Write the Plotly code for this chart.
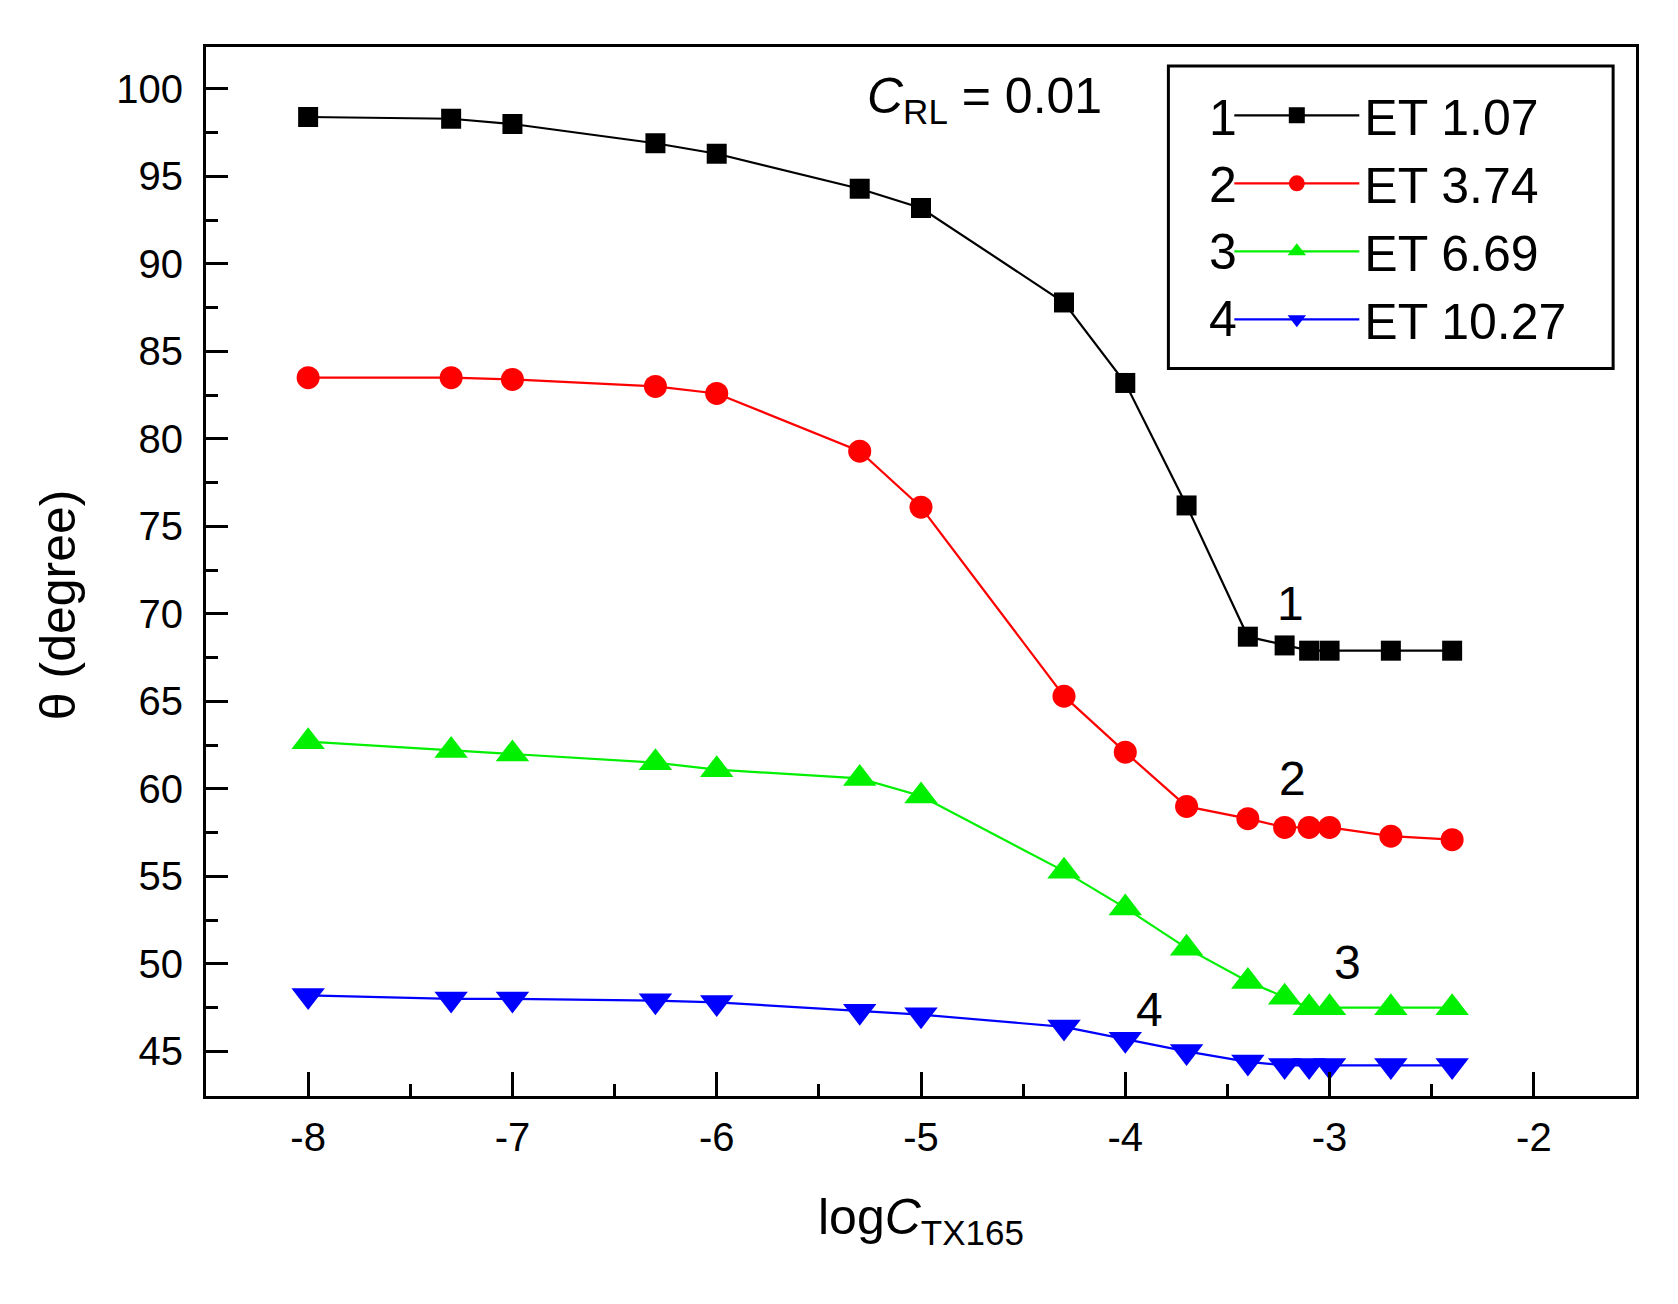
import plotly.graph_objects as go

# ---- data ----
log_c = [-8, -7.3, -7, -6.3, -6, -5.3, -5, -4.3, -4, -3.7, -3.4, -3.22, -3.1, -3.0, -2.7, -2.4]
theta_et107 = [98.4, 98.3, 98.0, 96.9, 96.3, 94.3, 93.2, 87.8, 83.2, 76.2, 68.7, 68.2, 67.9, 67.9, 67.9, 67.9]
theta_et374 = [83.5, 83.5, 83.4, 83.0, 82.6, 79.3, 76.1, 65.3, 62.1, 59.0, 58.3, 57.8, 57.8, 57.8, 57.3, 57.1]
theta_et669 = [62.7, 62.2, 62.0, 61.5, 61.1, 60.6, 59.6, 55.3, 53.2, 50.9, 49.0, 48.1, 47.5, 47.5, 47.5, 47.5]
theta_et1027 = [48.2, 48.0, 48.0, 47.9, 47.8, 47.3, 47.1, 46.4, 45.7, 45.0, 44.4, 44.2, 44.2, 44.2, 44.2, 44.2]

series_names = ["ET 1.07", "ET 3.74", "ET 6.69", "ET 10.27"]
series_numbers = ["1", "2", "3", "4"]
x_ticks = [-8, -7, -6, -5, -4, -3, -2]
y_ticks = [45, 50, 55, 60, 65, 70, 75, 80, 85, 90, 95, 100]

# curve label positions (data coords)
curve_label_x = [-3.19, -3.18, -2.91, -3.88]
curve_label_y = [70.6, 60.6, 50.1, 47.4]

FONT = "Liberation Sans, Arial, sans-serif"
series_values = [theta_et107, theta_et374, theta_et669, theta_et1027]
colors = ["#000000", "#ff0000", "#00f000", "#0000ff"]
symbols = ["square", "circle", "triangle-up", "triangle-down"]
sizes = [20, 23, 29, 29]

fig = go.Figure()
for name, vals, col, sym, sz in zip(series_names, series_values, colors, symbols, sizes):
    fig.add_trace(go.Scatter(
        x=log_c, y=vals, name=name, mode="lines+markers",
        line=dict(color=col, width=2.2),
        marker=dict(symbol=sym, size=sz, color=col, line=dict(width=0)),
    ))

annotations = []
# curve labels
for t, xx, yy in zip(series_numbers, curve_label_x, curve_label_y):
    annotations.append(dict(x=xx, y=yy, xref="x", yref="y", text=t, showarrow=False,
                            font=dict(family=FONT, size=48, color="black"),
                            xanchor="center", yanchor="middle"))
# legend numbers
leg_rows = [0.9324, 0.8687, 0.8046, 0.7404]
for t, yy in zip(series_numbers, leg_rows):
    annotations.append(dict(x=0.711, y=yy, xref="paper", yref="paper", text=t, showarrow=False,
                            font=dict(family=FONT, size=50, color="black"),
                            xanchor="center", yanchor="middle"))
# C_RL annotation
annotations.append(dict(x=0.5444, y=0.9497, xref="paper", yref="paper",
                        text="<i>C</i><sub>RL</sub> = 0.01", showarrow=False,
                        font=dict(family=FONT, size=50, color="black"),
                        xanchor="center", yanchor="middle"))
# axis titles
annotations.append(dict(x=0.5, y=-0.0866, xref="paper", yref="paper",
                        text="log<i>C</i><sub>TX165</sub>", showarrow=False,
                        font=dict(family=FONT, size=50, color="black"),
                        xanchor="center", yanchor="top"))
annotations.append(dict(x=-0.1034, y=0.468, xref="paper", yref="paper",
                        text="θ (degree)", showarrow=False, textangle=-90,
                        font=dict(family=FONT, size=50, color="black"),
                        xanchor="center", yanchor="middle"))

fig.update_layout(
    width=1670, height=1296,
    margin=dict(l=198, r=42, t=39, b=208, autoexpand=False),
    paper_bgcolor="white", plot_bgcolor="white",
    font=dict(family=FONT, color="black"),
    showlegend=True,
    legend=dict(
        x=0.7156, y=0.972, xanchor="left", yanchor="top",
        font=dict(family=FONT, size=50, color="black"),
        bgcolor="rgba(0,0,0,0)", borderwidth=0,
        itemwidth=125, tracegroupgap=0,
    ),
    annotations=annotations,
    shapes=[dict(type="rect", xref="paper", yref="paper",
                 x0=0.673, x1=0.984, y0=0.6936, y1=0.9819,
                 line=dict(color="black", width=3), fillcolor="rgba(0,0,0,0)", layer="above")],
    xaxis=dict(
        range=[-8.5, -1.5], tickmode="array", tickvals=x_ticks,
        ticktext=[str(v) for v in x_ticks],
        ticks="inside", ticklen=24, tickwidth=2.5, tickcolor="black",
        showline=True, linewidth=3, linecolor="black", mirror=True,
        showgrid=False, zeroline=False, automargin=False,
        tickfont=dict(family=FONT, size=40, color="black"),
        ticklabelstandoff=4,
        minor=dict(ticks="inside", ticklen=12, tickwidth=2.5, tickcolor="black",
                   dtick=0.5, tick0=-8, showgrid=False),
    ),
    yaxis=dict(
        range=[42.45, 102.4], tickmode="array", tickvals=y_ticks,
        ticktext=[str(v) for v in y_ticks],
        ticks="inside", ticklen=22, tickwidth=2.5, tickcolor="black",
        showline=True, linewidth=3, linecolor="black", mirror=True,
        showgrid=False, zeroline=False, automargin=False,
        tickfont=dict(family=FONT, size=40, color="black"),
        ticklabelstandoff=12,
        minor=dict(ticks="inside", ticklen=12, tickwidth=2.5, tickcolor="black",
                   dtick=2.5, tick0=0, showgrid=False),
    ),
)

fig.write_html("out.html")
